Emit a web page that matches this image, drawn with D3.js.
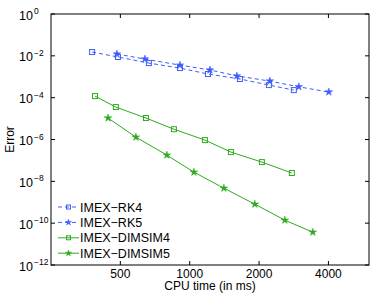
<!DOCTYPE html>
<html>
<head>
  <script src="https://cdn.jsdelivr.net/npm/d3@7/dist/d3.min.js"></script>
  <style>
    body { margin: 0; background: #fff; overflow: hidden; }
    svg { display: block; }
    text { font-family: "Liberation Sans", Arial, sans-serif; }
  </style>
</head>
<body>
  <svg width="374" height="297" id="mainsvg"></svg>
  <script>
    // data (CPU time in ms, error)
    const rk4Time = [377, 488, 665, 907, 1200, 1651, 2206, 2831];
    const rk4Err = [1.52e-2, 8.8e-3, 4.5e-3, 2.6e-3, 1.35e-3, 7.8e-4, 4.0e-4, 2.3e-4];
    const rk5Time = [483, 639, 907, 1224, 1602, 2228, 2976, 4017];
    const rk5Err = [1.22e-2, 7.0e-3, 3.6e-3, 2.1e-3, 1.1e-3, 6.2e-4, 3.3e-4, 1.85e-4];
    const dim4Time = [388, 478, 646, 854, 1164, 1509, 2057, 2775];
    const dim4Err = [1.19e-4, 3.55e-5, 1.06e-5, 3.1e-6, 9.4e-7, 2.5e-7, 8.3e-8, 2.5e-8];
    const dim5Time = [442, 584, 796, 1043, 1407, 1917, 2588, 3423];
    const dim5Err = [1.06e-5, 1.30e-6, 1.79e-7, 2.75e-8, 4.7e-9, 8.1e-10, 1.39e-10, 3.7e-11];

    const xTicks = [500, 1000, 2000, 4000];
    const yExps = [0, -2, -4, -6, -8, -10, -12];

    const blue = '#3d5cff';
    const green = '#2eaa1e';

    const series = [
      {name: 'IMEX\u2212RK4', t: rk4Time, e: rk4Err, color: blue, dash: '4,3', marker: 'square'},
      {name: 'IMEX\u2212RK5', t: rk5Time, e: rk5Err, color: blue, dash: '4,3', marker: 'star'},
      {name: 'IMEX\u2212DIMSIM4', t: dim4Time, e: dim4Err, color: green, dash: null, marker: 'square'},
      {name: 'IMEX\u2212DIMSIM5', t: dim5Time, e: dim5Err, color: green, dash: null, marker: 'star'}
    ];

    const svg = d3.select('svg');
    const margin = {top: 14, right: 5, bottom: 32, left: 51};
    const width = 374, height = 297;
    const innerWidth = width - margin.left - margin.right;
    const innerHeight = height - margin.top - margin.bottom;

    const x = d3.scaleLog().domain([250, 6000]).range([0, innerWidth]);
    const y = d3.scaleLog().domain([1e-12, 1]).range([innerHeight, 0]);

    const g = svg.append('g').attr('transform', `translate(${margin.left},${margin.top})`);

    // ticks (inside, all four sides)
    const tl = 4;
    xTicks.forEach(v => {
      g.append('line').attr('x1', x(v)).attr('x2', x(v)).attr('y1', innerHeight).attr('y2', innerHeight - tl).attr('stroke', '#000');
      g.append('line').attr('x1', x(v)).attr('x2', x(v)).attr('y1', 0).attr('y2', tl).attr('stroke', '#000');
      g.append('text').attr('x', x(v)).attr('y', innerHeight + 13)
        .attr('text-anchor', 'middle').attr('font-size', 12).text(v);
    });
    yExps.forEach(p => {
      const yy = y(Math.pow(10, p));
      g.append('line').attr('x1', 0).attr('x2', tl).attr('y1', yy).attr('y2', yy).attr('stroke', '#000');
      g.append('line').attr('x1', innerWidth).attr('x2', innerWidth - tl).attr('y1', yy).attr('y2', yy).attr('stroke', '#000');
      g.append('text').attr('x', -18).attr('y', yy + 5.5)
        .attr('text-anchor', 'end').attr('font-size', 12.5).text('10');
      g.append('text').attr('x', -17).attr('y', yy)
        .attr('font-size', 8.5).text(p === 0 ? '0' : '\u2212' + Math.abs(p));
    });

    const line = d3.line().x(d => x(d[0])).y(d => y(d[1]));

    function drawMarker(sel, s, px, py, k) {
      if (s.marker === 'square') {
        const h = 2.5 * k;
        sel.append('rect').attr('x', px - h).attr('y', py - h).attr('width', 2 * h).attr('height', 2 * h)
          .attr('fill', 'none').attr('stroke', s.color).attr('stroke-width', 1);
      } else {
        sel.append('path').attr('d', d3.symbol().type(d3.symbolStar).size(18 * k * k)())
          .attr('transform', `translate(${px},${py})`)
          .attr('fill', s.color).attr('stroke', s.color).attr('stroke-width', 0.5);
      }
    }

    series.forEach(s => {
      const pts = s.t.map((t, i) => [t, s.e[i]]);
      g.append('path').datum(pts).attr('d', line)
        .attr('fill', 'none').attr('stroke', s.color).attr('stroke-width', 1)
        .attr('stroke-dasharray', s.dash);
      pts.forEach(p => drawMarker(g, s, x(p[0]), y(p[1]), 1));
    });

    // frame
    g.append('rect').attr('width', innerWidth).attr('height', innerHeight)
      .attr('fill', 'none').attr('stroke', '#000').attr('stroke-width', 1);

    // legend
    const leg = g.append('g').attr('transform', `translate(7, ${193})`);
    series.forEach((s, i) => {
      const yy = i * 15.4;
      leg.append('line').attr('x1', 0).attr('x2', 21).attr('y1', yy).attr('y2', yy)
        .attr('stroke', s.color).attr('stroke-width', 1).attr('stroke-dasharray', s.dash);
      drawMarker(leg, s, 10.5, yy, 0.8);
      leg.append('text').attr('x', 22).attr('y', yy + 4.5).attr('font-size', 12.5).text(s.name);
    });

    // axis titles
    svg.append('text').attr('x', margin.left + innerWidth / 2).attr('y', 290)
      .attr('text-anchor', 'middle').attr('font-size', 12).text('CPU time (in ms)');
    svg.append('text').attr('transform', `translate(14, ${margin.top + innerHeight / 2}) rotate(-90)`)
      .attr('text-anchor', 'middle').attr('font-size', 12).text('Error');
  </script>
</body>
</html>
